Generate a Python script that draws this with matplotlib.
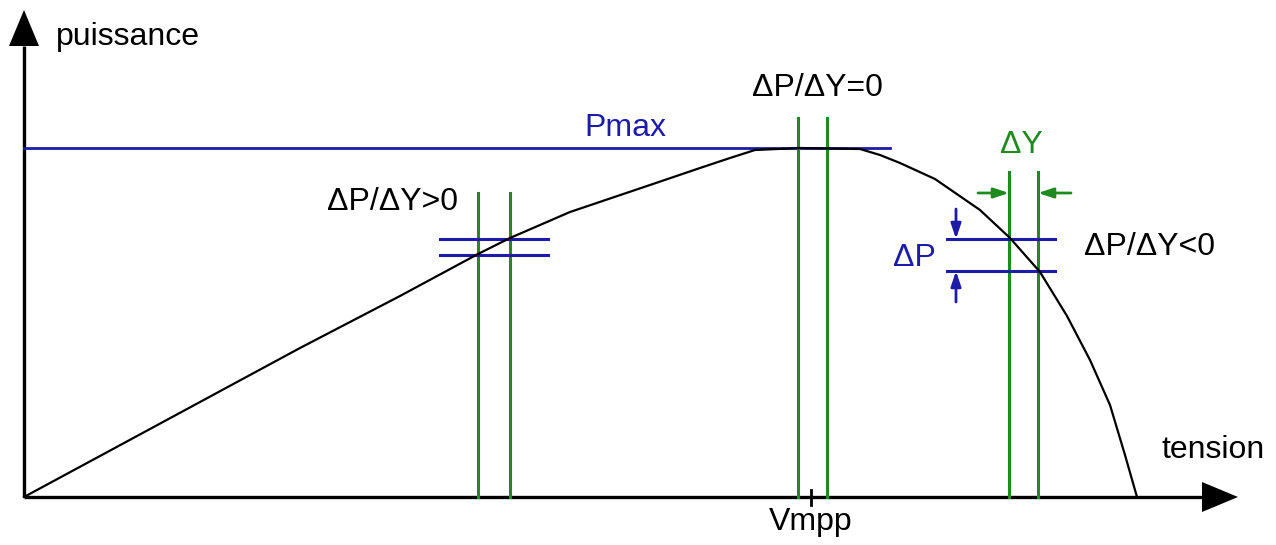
"""MPPT principle sketch: P(V) curve of a PV panel with the sign of dP/dV."""

import matplotlib
matplotlib.use("Agg")
import matplotlib.pyplot as plt

plt.rcParams["font.family"] = ["Liberation Sans", "DejaVu Sans"]

W, H = 1276, 545
BLACK = "#000000"
GREEN = "#1f8a1f"
BLUE = "#1c1ca8"

# ---------------------------------------------------------------- data (image units, y grows down)
ORIGIN = (24, 497)
X_TIP = 1238
Y_TIP = 10
HEAD_LEN = 36
HEAD_HALF = 15

# power curve
tension = [24, 100, 200, 300, 400, 478, 510, 570, 650, 700, 730, 755, 800, 860,
           880, 900, 935, 980, 1010, 1040, 1067, 1090, 1110, 1125, 1137]
puissance = [497, 456, 402, 348, 296, 254, 238, 212, 185, 168, 158, 150, 148, 149,
             155, 163, 179, 210, 238, 272, 316, 360, 405, 455, 497]

P_MAX = 148
P_MAX_END = 890
V_MPP = 811

# green vertical pairs (dV) and their top ends
dv_pairs = [(478, 510), (798, 827), (1009, 1038)]
dv_tops = [193, 118, 172]

# blue horizontal pairs (dP): y values and x extent
dp_pairs = [(239, 255), (239, 271)]
dp_spans = [(440, 548), (947, 1055)]

# dimension arrows on the right-hand pair
DP_ARROW_X = 956
DP_ARROW_FROM = (209, 302)
DV_ARROW_Y = 193
DV_ARROW_FROM = (978, 1071)

labels = [
    # text, x, y, ha, colour
    ("puissance", 56, 37, "left", BLACK),
    ("tension", 1161, 450, "left", BLACK),
    ("Vmpp", V_MPP, 522, "center", BLACK),
    ("Pmax", 625, 128, "center", BLUE),
    ("ΔP/ΔY=0", 817, 88, "center", BLACK),
    ("ΔP/ΔY>0", 392, 202, "center", BLACK),
    ("ΔP/ΔY<0", 1084, 247, "left", BLACK),
    ("ΔP", 914, 258, "center", BLUE),
    ("ΔY", 1021, 145, "center", GREEN),
]

# ---------------------------------------------------------------- drawing
fig = plt.figure(figsize=(W / 100, H / 100), dpi=100)
ax = fig.add_axes([0, 0, 1, 1])
ax.set_xlim(0, W)
ax.set_ylim(H, 0)
ax.axis("off")

x0, y0 = ORIGIN
# axes with filled arrow heads
ax.plot([x0, X_TIP - HEAD_LEN], [y0, y0], color=BLACK, lw=2.4, solid_capstyle="butt")
ax.plot([x0, x0], [y0, Y_TIP + HEAD_LEN], color=BLACK, lw=2.4, solid_capstyle="butt")
ax.fill([X_TIP - HEAD_LEN, X_TIP, X_TIP - HEAD_LEN],
        [y0 - HEAD_HALF, y0, y0 + HEAD_HALF], color=BLACK, lw=0)
ax.fill([x0 - HEAD_HALF, x0, x0 + HEAD_HALF],
        [Y_TIP + HEAD_LEN, Y_TIP, Y_TIP + HEAD_LEN], color=BLACK, lw=0)

# Vmpp tick
ax.plot([V_MPP, V_MPP], [y0 - 7, y0 + 8], color=BLACK, lw=2)

# Pmax level
ax.plot([x0, P_MAX_END], [P_MAX, P_MAX], color=BLUE, lw=2, zorder=2)

# dV verticals
for (va, vb), top in zip(dv_pairs, dv_tops):
    for v in (va, vb):
        ax.plot([v, v], [top, y0], color=GREEN, lw=2.2, zorder=3)

# dP horizontals
for (pa, pb), (xa, xb) in zip(dp_pairs, dp_spans):
    for p in (pa, pb):
        ax.plot([xa, xb], [p, p], color=BLUE, lw=2.2, zorder=3)

# the P(V) curve
ax.plot(tension, puissance, color=BLACK, lw=1.6, zorder=4)

# dimension arrows
arrow = "-|>,head_length=0.9,head_width=0.3"
(pa, pb) = dp_pairs[1]
ax.annotate("", xy=(DP_ARROW_X, pa), xytext=(DP_ARROW_X, DP_ARROW_FROM[0]),
            arrowprops=dict(arrowstyle=arrow, color=BLUE, lw=2, shrinkA=0, shrinkB=0))
ax.annotate("", xy=(DP_ARROW_X, pb), xytext=(DP_ARROW_X, DP_ARROW_FROM[1]),
            arrowprops=dict(arrowstyle=arrow, color=BLUE, lw=2, shrinkA=0, shrinkB=0))
(va, vb) = dv_pairs[2]
ax.annotate("", xy=(va, DV_ARROW_Y), xytext=(DV_ARROW_FROM[0], DV_ARROW_Y),
            arrowprops=dict(arrowstyle=arrow, color=GREEN, lw=2, shrinkA=0, shrinkB=0))
ax.annotate("", xy=(vb, DV_ARROW_Y), xytext=(DV_ARROW_FROM[1], DV_ARROW_Y),
            arrowprops=dict(arrowstyle=arrow, color=GREEN, lw=2, shrinkA=0, shrinkB=0))

for text, x, y, ha, col in labels:
    ax.text(x, y, text, ha=ha, va="center", color=col, fontsize=23)

fig.savefig("out.png", dpi=100)
